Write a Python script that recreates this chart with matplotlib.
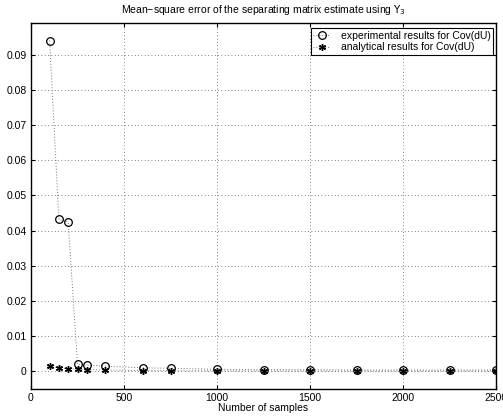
import matplotlib
matplotlib.use("Agg")
import matplotlib.pyplot as plt
from matplotlib import font_manager as fm

reg = None
for f in fm.fontManager.ttflist:
    if f.name == 'Liberation Sans' and f.style == 'normal' and f.weight in (400, 'normal') \
            and 'Narrow' not in f.fname:
        reg = f.fname
        break
if reg:
    fam = fm.FontProperties(fname=reg).get_name()
else:
    fam = 'DejaVu Sans'
plt.rcParams['font.family'] = [fam, 'DejaVu Sans']
plt.rcParams['mathtext.fontset'] = 'dejavusans'

samples = [100, 150, 200, 250, 300, 400, 600, 750, 1000, 1250, 1500, 1750, 2000, 2250, 2500]
experimental = [0.0940, 0.0432, 0.0424, 0.0020, 0.0018, 0.0015, 0.0010, 0.0009,
                0.0006, 0.0005, 0.0005, 0.0004, 0.0004, 0.0004, 0.0004]
analytical = [0.0015, 0.0010, 0.0008, 0.0006, 0.0005, 0.0004, 0.00025, 0.0002,
              0.00015, 0.00012, 0.0001, 0.0001, 0.0001, 0.0001, 0.0001]
xticks = [0, 500, 1000, 1500, 2000, 2500]
yticks = [0, 0.01, 0.02, 0.03, 0.04, 0.05, 0.06, 0.07, 0.08, 0.09]
ytick_labels = ['0', '0.01', '0.02', '0.03', '0.04', '0.05', '0.06', '0.07', '0.08', '0.09']

FS = 7.5
fig = plt.figure(figsize=(5.03, 4.16), dpi=100)
ax = fig.add_axes([31/503, 1 - 389/416, (496-31)/503, (389-23)/416])

ax.plot(samples, experimental, linestyle=(0, (1, 2)), color='0.45', linewidth=0.7,
        marker='o', markersize=5.5, markerfacecolor='none', markeredgecolor='black',
        markeredgewidth=0.9, label='experimental results for Cov(dU)')
ax.plot(samples, analytical, linestyle=(0, (1, 2)), color='0.45', linewidth=0.7,
        marker=(6, 2, 0), markersize=5, markerfacecolor='black', markeredgecolor='black',
        markeredgewidth=1.0, label='analytical results for Cov(dU)')

ax.set_xlim(0, 2500)
ax.set_ylim(-0.005, 0.099)
ax.set_xticks(xticks)
ax.set_yticks(yticks)
ax.set_yticklabels(ytick_labels)
ax.tick_params(direction='in', labelsize=FS, length=3, width=0.8, top=True, right=True, pad=3)
ax.grid(True, linestyle=(0, (1, 3)), color='0.35', linewidth=0.6)
for s in ax.spines.values():
    s.set_linewidth(1.0)

ax.set_xlabel('Number of samples', fontsize=FS, labelpad=0)
ax.set_title('Mean\u2212square error of the separating matrix estimate using $\\Upsilon_3$',
             fontsize=FS, pad=7)

leg = ax.legend(loc='upper right', bbox_to_anchor=(493/503, 1 - 28/416),
                bbox_transform=fig.transFigure, borderaxespad=0,
                fontsize=FS, frameon=True, fancybox=False,
                edgecolor='black', framealpha=1,
                handlelength=1.6, handletextpad=1.0, borderpad=0.25, labelspacing=0.15)
leg.get_frame().set_linewidth(0.8)

fig.savefig('out.png', dpi=100)
